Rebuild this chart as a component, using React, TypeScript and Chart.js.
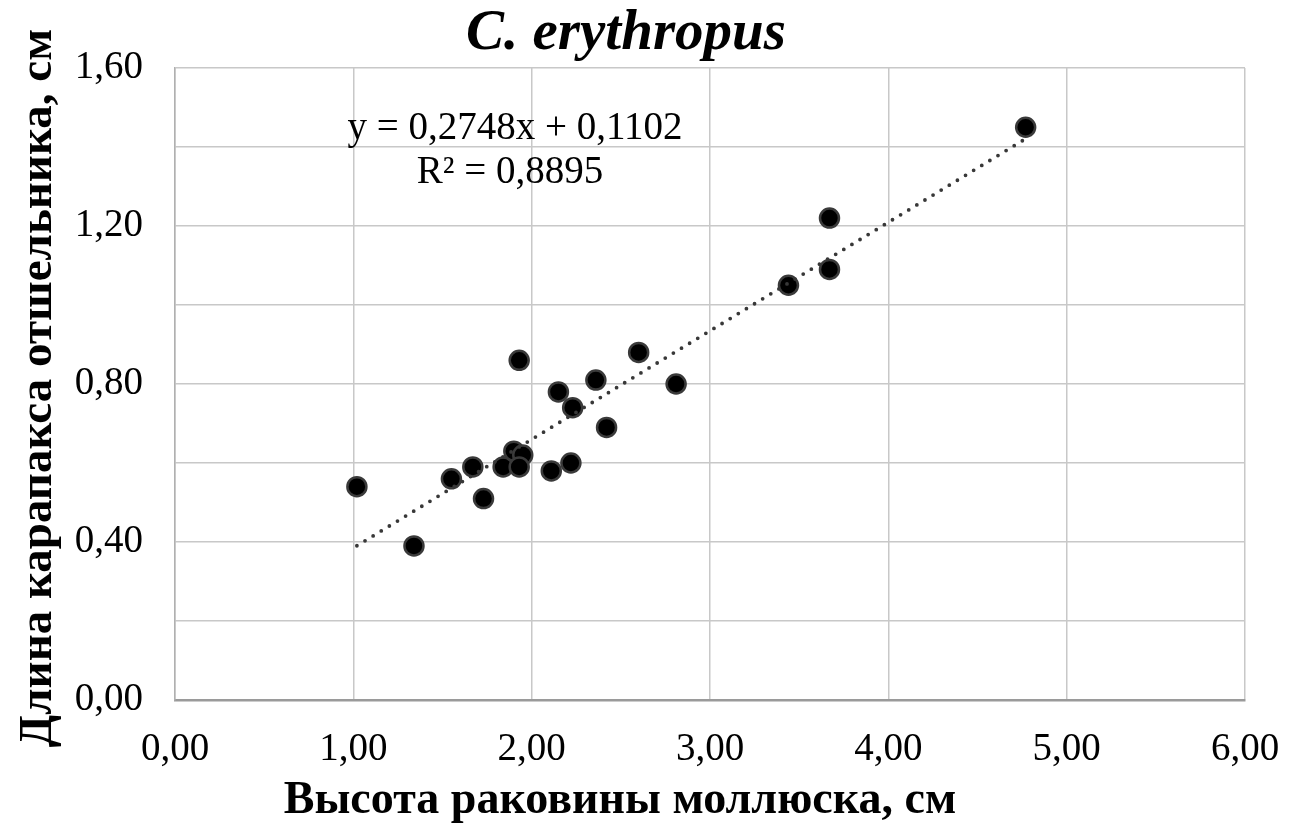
import React, { useEffect, useRef } from 'react';
import { Chart, registerables } from 'chart.js';

Chart.register(...registerables);

// Data
const shellHeight: number[] = [1.02, 1.34, 1.55, 1.67, 1.73, 1.84, 1.90, 1.95, 1.93, 1.93, 2.11, 2.15, 2.22, 2.23, 2.36, 2.42, 2.60, 2.81, 3.44, 3.67, 3.67, 4.77];
const carapaceLength: number[] = [0.54, 0.39, 0.56, 0.59, 0.51, 0.59, 0.63, 0.62, 0.59, 0.86, 0.58, 0.78, 0.60, 0.74, 0.81, 0.69, 0.88, 0.80, 1.05, 1.22, 1.09, 1.45];

const trendSlope = 0.2748;
const trendIntercept = 0.1102;
const equationLines: string[] = ['y = 0,2748x + 0,1102', 'R² = 0,8895'];

const xTickLabels: string[] = ['0,00', '1,00', '2,00', '3,00', '4,00', '5,00', '6,00'];
const yTickLabels: string[] = ['0,00', '', '0,40', '', '0,80', '', '1,20', '', '1,60'];

const chartTitle = 'C. erythropus';
const xAxisTitle = 'Высота раковины моллюска, см';
const yAxisTitle = 'Длина карапакса отшельника, см';

const FONT = '"Liberation Serif", "Times New Roman", serif';

export default function App() {
  const canvasRef = useRef<HTMLCanvasElement | null>(null);

  useEffect(() => {
    if (!canvasRef.current) return;
    const points = shellHeight.map((x, i) => ({ x, y: carapaceLength[i] }));
    const minX = Math.min(...shellHeight);
    const maxX = Math.max(...shellHeight);
    const trend = [minX, maxX].map((x) => ({ x, y: trendSlope * x + trendIntercept }));

    const textPlugin = {
      id: 'texts',
      afterDraw(chart: any) {
        const ctx = chart.ctx as CanvasRenderingContext2D;
        ctx.save();
        ctx.fillStyle = '#000';
        ctx.textAlign = 'center';
        ctx.textBaseline = 'alphabetic';
        ctx.font = `italic bold 57px ${FONT}`;
        ctx.fillText(chartTitle, 626, 49);

        ctx.font = `39px ${FONT}`;
        ctx.fillText(equationLines[0], 515, 139);
        ctx.fillText(equationLines[1], 510, 183);

        ctx.font = `bold 46px ${FONT}`;
        ctx.fillText(xAxisTitle, 620, 813);

        ctx.translate(51, 388);
        ctx.rotate(-Math.PI / 2);
        ctx.font = `bold 47px ${FONT}`;
        ctx.fillText(yAxisTitle, 0, 0);
        ctx.restore();
      },
    };

    const chart = new Chart(canvasRef.current, {
      type: 'scatter',
      data: {
        datasets: [
          {
            type: 'line',
            label: 'trend',
            data: trend,
            borderColor: '#383838',
            borderWidth: 3.8,
            borderDash: [0, 9.5],
            borderCapStyle: 'round',
            pointRadius: 0,
            fill: false,
            order: 0,
          } as any,
          {
            label: 'data',
            data: points,
            backgroundColor: '#000',
            borderColor: '#3a3a3a',
            borderWidth: 2.5,
            pointRadius: 9.5,
            pointHoverRadius: 9.5,
            order: 1,
          },
        ],
      },
      options: {
        animation: false,
        responsive: true,
        maintainAspectRatio: false,
        layout: { padding: { top: 68, right: 47, left: 0, bottom: 0 } },
        plugins: {
          legend: { display: false },
          tooltip: { enabled: false },
          title: { display: false },
        },
        scales: {
          x: {
            type: 'linear',
            min: 0,
            max: 6,
            afterFit: (scale: any) => {
              scale.height = 125;
              scale.paddingLeft = 0;
              scale.paddingRight = 0;
            },
            ticks: {
              stepSize: 1,
              autoSkip: false,
              maxRotation: 0,
              padding: 26,
              color: '#000',
              font: { family: FONT, size: 39 },
              callback: (_v: any, i: number) => xTickLabels[i],
            },
            grid: { color: '#c8c8c8', lineWidth: 1.5, drawTicks: false },
            border: { color: '#9a9a9a', width: 2.5 },
          },
          y: {
            type: 'linear',
            min: 0,
            max: 1.6,
            afterFit: (scale: any) => {
              scale.width = 175;
              scale.paddingTop = 0;
              scale.paddingBottom = 0;
            },
            ticks: {
              stepSize: 0.2,
              autoSkip: false,
              padding: 32,
              color: '#000',
              font: { family: FONT, size: 39 },
              callback: (_v: any, i: number) => yTickLabels[i],
            },
            grid: { color: '#c8c8c8', lineWidth: 1.5, drawTicks: false },
            border: { color: '#b0b0b0', width: 1.5 },
          },
        },
      },
      plugins: [textPlugin],
    });

    return () => chart.destroy();
  }, []);

  return (
    <div style={{ position: 'absolute', left: 0, top: 0, width: 1292, height: 825, background: '#fff' }}>
      <canvas ref={canvasRef} />
    </div>
  );
}
